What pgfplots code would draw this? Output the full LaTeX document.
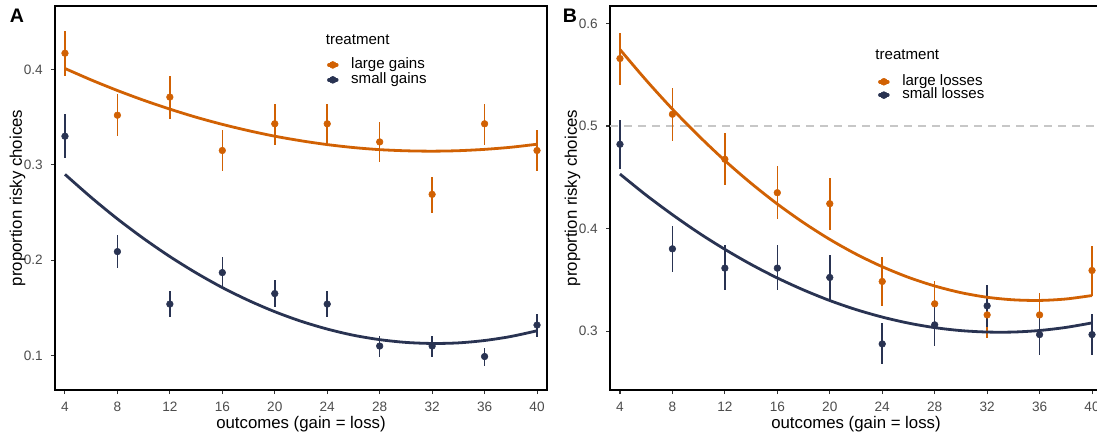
\documentclass[border=0pt]{standalone}
\usepackage{pgfplots}
\pgfplotsset{compat=1.18}
\usepackage{fontspec}
\setmainfont{Liberation Sans}
\definecolor{colLarge}{HTML}{D16103}
\definecolor{colSmall}{HTML}{293352}

\pgfplotsset{
  panel/.style={
    scale only axis, width=369pt, height=288pt,
    anchor=south west, clip=false,
    xmin=3.24, xmax=40.76,
    xtick={4,8,12,16,20,24,28,32,36,40},
    axis line style={line width=1.3pt, black},
    tick style={color=black!80, line width=0.8pt},
    tick align=outside, major tick length=3pt,
    xtick pos=bottom, ytick pos=left,
    /pgf/number format/assume math mode=true,
    ticklabel style={font=\fontsize{10.2}{12}\selectfont, text=black!70},
    xticklabel style={anchor=north, inner sep=0pt, yshift=-6pt},
    yticklabel style={anchor=east, inner sep=0pt, xshift=-6pt,
      /pgf/number format/.cd, fixed, fixed zerofill, precision=1},
    xlabel={outcomes (gain = loss)},
    ylabel={proportion risky choices},
    every axis x label/.style={at={(axis description cs:0.5,-0.0885)}, anchor=center,
      font=\fontsize{12.6}{14}\selectfont},
    every axis y label/.style={at={(axis description cs:-0.076,0.5)}, rotate=90, anchor=center,
      font=\fontsize{12.6}{14}\selectfont},
    legend cell align=left,
    legend image code/.code={
      \draw[line width=2.6pt, line cap=round] (0pt,0pt) -- (6pt,0pt);
      \fill (3pt,0pt) circle (2.6pt);},
  },
  pts/.style={only marks, mark=*, mark size=2.5pt,
    error bars/y dir=both, error bars/y explicit, error bars/error mark=none,
    error bars/error bar style={line width=1.2pt}},
  fit/.style={line width=2.1pt, smooth, forget plot},
}

\begin{document}
\begin{tikzpicture}

% ---------------- panel A: gains ----------------
\begin{axis}[panel, at={(41.25pt,35.25pt)},
    ymin=0.0639, ymax=0.4665,
    ytick={0.1,0.2,0.3,0.4},
    legend style={draw=none, fill=none, inner sep=0pt, outer sep=0pt,
      at={(axis description cs:0.553,0.866)}, anchor=north west,
      font=\fontsize{11.3}{13}\selectfont,
      nodes={inner sep=0pt, text height=8.2pt, text depth=3pt, anchor=west},
      row sep=0pt, /tikz/every odd column/.append style={column sep=9.5pt}},
]
\addplot[pts, colLarge, mark options={fill=colLarge, draw=colLarge}]
  table[x=x, y=y, y error plus=ep, y error minus=em] {
x  y     ep    em
4  0.417 0.023 0.024
8  0.352 0.022 0.022
12 0.371 0.022 0.023
16 0.315 0.021 0.021
20 0.343 0.021 0.022
24 0.343 0.021 0.021
28 0.324 0.021 0.021
32 0.269 0.018 0.019
36 0.343 0.021 0.022
40 0.315 0.021 0.021
};
\addlegendentry{large gains}
\addplot[pts, colSmall, mark options={fill=colSmall, draw=colSmall}]
  table[x=x, y=y, y error plus=ep, y error minus=em] {
x  y     ep    em
4  0.330 0.023 0.023
8  0.209 0.017 0.017
12 0.154 0.014 0.014
16 0.187 0.016 0.015
20 0.165 0.014 0.014
24 0.154 0.014 0.014
28 0.110 0.010 0.011
32 0.110 0.010 0.011
36 0.099 0.009 0.0095
40 0.132 0.012 0.013
};
\addlegendentry{small gains}
% fitted curves
\addplot[fit, colLarge] coordinates {
(4,0.4010)(6,0.3890)(8,0.3779)(10,0.3677)(12,0.3584)(14,0.3499)(16,0.3424)
(18,0.3358)(20,0.3300)(22,0.3252)(24,0.3212)(26,0.3181)(28,0.3159)(30,0.3147)
(32,0.3143)(34,0.3148)(36,0.3162)(38,0.3184)(40,0.3216)};
\addplot[fit, colSmall] coordinates {
(4,0.2900)(6,0.2658)(8,0.2433)(10,0.2227)(12,0.2038)(14,0.1867)(16,0.1713)
(18,0.1578)(20,0.1460)(22,0.1360)(24,0.1278)(26,0.1213)(28,0.1167)(30,0.1138)
(32,0.1127)(34,0.1133)(36,0.1158)(38,0.1200)(40,0.1260)};
\node[anchor=west, inner sep=0pt, font=\fontsize{11.3}{13}\selectfont]
  at (axis description cs:0.550,0.9115) {treatment};
\node[font=\bfseries\fontsize{14.7}{16}\selectfont]
  at (axis description cs:-0.0772,0.974) {A};
\end{axis}

% ---------------- panel B: losses ----------------
\begin{axis}[panel, at={(457.5pt,35.25pt)},
    ymin=0.2427, ymax=0.617,
    ytick={0.3,0.4,0.5,0.6},
    legend style={draw=none, fill=none, inner sep=0pt, outer sep=0pt,
      at={(axis description cs:0.545,0.820)}, anchor=north west,
      font=\fontsize{11.3}{13}\selectfont,
      nodes={inner sep=0pt, text height=7.5pt, text depth=2.5pt, anchor=west},
      row sep=0pt, /tikz/every odd column/.append style={column sep=9.5pt}},
]
\addplot[black!22, line width=0.8pt, dash pattern=on 6pt off 4.5pt, forget plot]
  coordinates {(3.24,0.5)(40.76,0.5)};
\addplot[pts, colLarge, mark options={fill=colLarge, draw=colLarge}]
  table[x=x, y=y, y error plus=ep, y error minus=em] {
x  y      ep     em
4  0.5658 0.0250 0.0255
8  0.5115 0.0255 0.0260
12 0.4676 0.0260 0.0254
16 0.4350 0.0257 0.0254
20 0.4243 0.0254 0.0254
24 0.3485 0.0234 0.0235
28 0.3267 0.0227 0.0228
32 0.3159 0.0221 0.0224
36 0.3159 0.0218 0.0218
40 0.3592 0.0241 0.0251
};
\addlegendentry{large losses}
\addplot[pts, colSmall, mark options={fill=colSmall, draw=colSmall}]
  table[x=x, y=y, y error plus=ep, y error minus=em] {
x  y      ep     em
4  0.4822 0.0241 0.0244
8  0.3803 0.0225 0.0227
12 0.3615 0.0221 0.0218
16 0.3615 0.0221 0.0218
20 0.3524 0.0218 0.0218
24 0.2876 0.0202 0.0195
28 0.3062 0.0221 0.0209
32 0.3247 0.0208 0.0208
36 0.2967 0.0218 0.0198
40 0.2967 0.0202 0.0198
};
\addlegendentry{small losses}
\addplot[fit, colLarge] coordinates {
(4,0.5746)(6,0.5446)(8,0.5165)(10,0.4905)(12,0.4663)(14,0.4442)(16,0.4240)
(18,0.4058)(20,0.3895)(22,0.3752)(24,0.3629)(26,0.3525)(28,0.3441)(30,0.3376)
(32,0.3331)(34,0.3306)(36,0.3300)(38,0.3314)(40,0.3348)};
\addplot[fit, colSmall] coordinates {
(4,0.4532)(6,0.4326)(8,0.4136)(10,0.3959)(12,0.3798)(14,0.3651)(16,0.3519)
(18,0.3402)(20,0.3299)(22,0.3211)(24,0.3138)(26,0.3079)(28,0.3035)(30,0.3006)
(32,0.2992)(34,0.2992)(36,0.3007)(38,0.3037)(40,0.3081)};
\node[anchor=west, inner sep=0pt, font=\fontsize{11.3}{13}\selectfont]
  at (axis description cs:0.539,0.8724) {treatment};
\node[font=\bfseries\fontsize{14.7}{16}\selectfont]
  at (axis description cs:-0.0813,0.974) {B};
\end{axis}

\pgfresetboundingbox
\useasboundingbox (0,0) rectangle (822.75pt,327.75pt);
\end{tikzpicture}
\end{document}
